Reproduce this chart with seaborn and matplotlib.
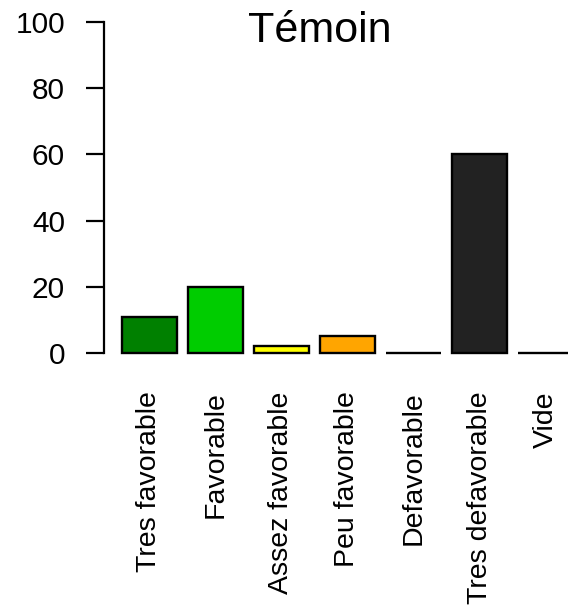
import matplotlib
matplotlib.use("Agg")
import matplotlib.pyplot as plt
import seaborn as sns

# Données
categories = ['Tres favorable', 'Favorable', 'Assez favorable', 'Peu favorable',
              'Defavorable', 'Tres defavorable', 'Vide']
valeurs = [11, 20, 2, 5, 0, 60, 0]
couleurs = ['#008000', '#00CC00', '#FFFF00', '#FFA500', '#FF0000', '#222222', '#BEBEBE']
yticks = [0, 20, 40, 60, 80, 100]
titre = 'Témoin'

sns.set_style('white')
plt.rcParams['font.family'] = ['Liberation Sans', 'DejaVu Sans']
plt.rcParams['text.color'] = 'black'
plt.rcParams['xtick.color'] = 'black'
plt.rcParams['ytick.color'] = 'black'
plt.rcParams['axes.labelcolor'] = 'black'

W, H = 568, 613
fig = plt.figure(figsize=(W / 100, H / 100), dpi=100)
# zone de tracé façon R (dépasse à droite)
left, right, top, bottom = 104, 591, 8.8, 366.2
ax = fig.add_axes([left / W, 1 - bottom / H, (right - left) / W, (bottom - top) / H])

sns.barplot(x=categories, y=valeurs, hue=categories, palette=couleurs, legend=False,
            width=1 / 1.2, edgecolor='black', linewidth=1.7, saturation=1, ax=ax)

ax.set_xlim(-0.689, 6.689)
ax.set_ylim(-4, 104)
ax.set_yticks(yticks)
ax.set_yticklabels([str(v) for v in yticks], fontsize=21.5)
ax.tick_params(axis='y', length=13, width=1.6, pad=15, left=True, color='black', labelcolor='black')
ax.tick_params(axis='x', length=0, pad=18, labelsize=20.5, labelrotation=90, labelcolor='black')
for lab in ax.get_xticklabels():
    lab.set_va('top')
    lab.set_ha('center')

for s in ['top', 'right', 'bottom']:
    ax.spines[s].set_visible(False)
ax.spines['left'].set_bounds(0, 100)
ax.spines['left'].set_linewidth(1.6)
ax.spines['left'].set_color('black')
ax.set_xlabel('')
ax.set_ylabel('')
ax.grid(False)

fig.text(320 / W, 1 - 42 / H, titre, ha='center', va='baseline', fontsize=31, color='black')

fig.savefig('out.png', dpi=100)
